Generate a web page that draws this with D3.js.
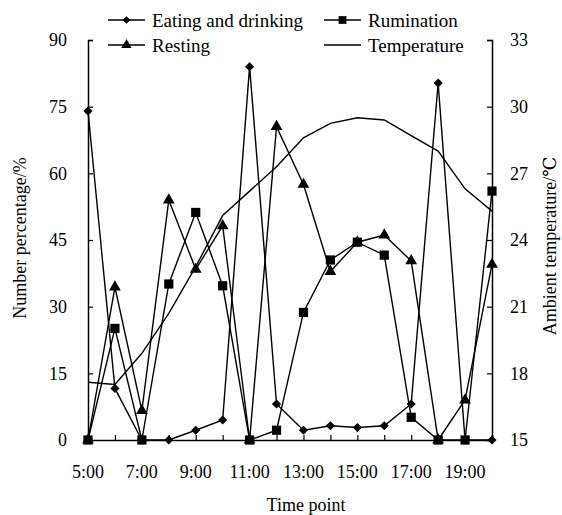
<!DOCTYPE html>
<html><head><meta charset="utf-8">
<script src="https://cdn.jsdelivr.net/npm/d3@7"></script>
<style>body{margin:0;background:#fff}svg{display:block}</style>
</head><body><div id="chart"></div>
<script>
const hours = [5,6,7,8,9,10,11,12,13,14,15,16,17,18,19,20];
const xTickLabels = ["5:00","7:00","9:00","11:00","13:00","15:00","17:00","19:00"];
const eating = [74,11.6,0,0,2.2,4.5,84,8.1,2.2,3.2,2.8,3.2,8.1,80.3,0,0];
const rumination = [0,25.1,0,35.1,51.2,34.7,0,2.2,28.7,40.5,44.5,41.6,5.1,0,0,56];
const resting = [0,34.4,6.6,54,38.4,48.2,0,70.5,57.5,37.9,44.5,46.1,40.3,0,9,39.5];
const temperature = [17.6,17.5,18.9,20.7,22.8,25.1,26.2,27.3,28.6,29.25,29.5,29.4,28.7,28.0,26.3,25.3];
const leftTicks = [0,15,30,45,60,75,90];
const rightTicks = [15,18,21,24,27,30,33];

const W=562,H=515;
const FONT="'Liberation Serif','Times New Roman',Times,'DejaVu Serif',serif";
const svg=d3.select("#chart").append("svg").attr("width",W).attr("height",H)
  .attr("font-family",FONT);
const x=d3.scaleLinear().domain([5,20]).range([88,492]);
const yL=d3.scaleLinear().domain([0,90]).range([440,40]);
const yR=d3.scaleLinear().domain([15,33]).range([440,40]);
const FS=18, FL=19;

// axes
const axL=svg.append("g").attr("transform","translate(88,0)")
  .call(d3.axisRight(yL).tickValues(leftTicks).tickSize(5).tickFormat(""));
const axR=svg.append("g").attr("transform","translate(492,0)")
  .call(d3.axisLeft(yR).tickValues(rightTicks).tickSize(5).tickFormat(""));
const axB=svg.append("g").attr("transform","translate(0,440)")
  .call(d3.axisTop(x).tickValues(hours).tickSize(5).tickFormat(""));
[axL,axR,axB].forEach(a=>{a.select(".domain").attr("stroke","#000").attr("stroke-width",1.5);a.selectAll(".tick line").attr("stroke","#000").attr("stroke-width",1.2);});

function txt(g,fs){return g.attr("font-family",FONT).attr("fill","#000").attr("font-size",fs||FS);}
// tick labels
txt(svg.append("g")).selectAll("text").data(leftTicks).join("text")
  .attr("x",67).attr("y",d=>yL(d)).attr("dy","0.35em").attr("text-anchor","end").text(d=>d);
txt(svg.append("g")).selectAll("text").data(rightTicks).join("text")
  .attr("x",510).attr("y",d=>yR(d)).attr("dy","0.35em").attr("text-anchor","start").text(d=>d);
txt(svg.append("g")).selectAll("text").data(xTickLabels).join("text")
  .attr("x",(d,i)=>x(5+2*i)).attr("y",472).attr("dy","0.35em").attr("text-anchor","middle").text(d=>d);

// titles
const tg=txt(svg.append("g"));
tg.append("text").attr("x",306).attr("y",505).attr("dy","0.35em").attr("text-anchor","middle").text("Time point");
tg.append("text").attr("transform","translate(20,238) rotate(-90)").attr("dy","0.35em").attr("text-anchor","middle").text("Number percentage/%");
tg.append("text").attr("transform","translate(550,246) rotate(-90)").attr("dy","0.35em").attr("text-anchor","middle").text("Ambient temperature/℃");

// series
const lineL=d3.line().x((d,i)=>x(hours[i])).y(d=>yL(d));
const lineR=d3.line().x((d,i)=>x(hours[i])).y(d=>yR(d));
const plot=svg.append("g");
plot.append("path").datum(temperature).attr("d",lineR).attr("fill","none").attr("stroke","#000").attr("stroke-width",1.4);
const series=[
  {data:rumination,sym:d3.symbolSquare,size:85,rot:0},
  {data:resting,sym:d3.symbolTriangle,size:60,rot:0},
  {data:eating,sym:d3.symbolSquare,size:42,rot:45}
];
series.forEach(s=>{
  plot.append("path").datum(s.data).attr("d",lineL).attr("fill","none").attr("stroke","#000").attr("stroke-width",1.4);
  plot.append("g").selectAll("path").data(s.data).join("path")
    .attr("transform",(d,i)=>`translate(${x(hours[i])},${yL(d)}) rotate(${s.rot})`)
    .attr("d",d3.symbol(s.sym,s.size)).attr("fill","#000");
});

// legend
const legend=[
  {label:"Eating and drinking",sym:d3.symbolSquare,size:30,rot:45,lx:108,ly:20},
  {label:"Rumination",sym:d3.symbolSquare,size:60,rot:0,lx:324,ly:20},
  {label:"Resting",sym:d3.symbolTriangle,size:45,rot:0,lx:108,ly:45},
  {label:"Temperature",sym:null,lx:324,ly:45}
];
const lg=svg.append("g");
legend.forEach(l=>{
  lg.append("line").attr("x1",l.lx).attr("x2",l.lx+37).attr("y1",l.ly).attr("y2",l.ly).attr("stroke","#000").attr("stroke-width",1.4);
  if(l.sym) lg.append("path").attr("transform",`translate(${l.lx+18.5},${l.ly}) rotate(${l.rot})`).attr("d",d3.symbol(l.sym,l.size)).attr("fill","#000");
  txt(lg.append("text"),FL).attr("x",l.lx+44).attr("y",l.ly).attr("dy","0.35em").text(l.label);
});
</script></body></html>
